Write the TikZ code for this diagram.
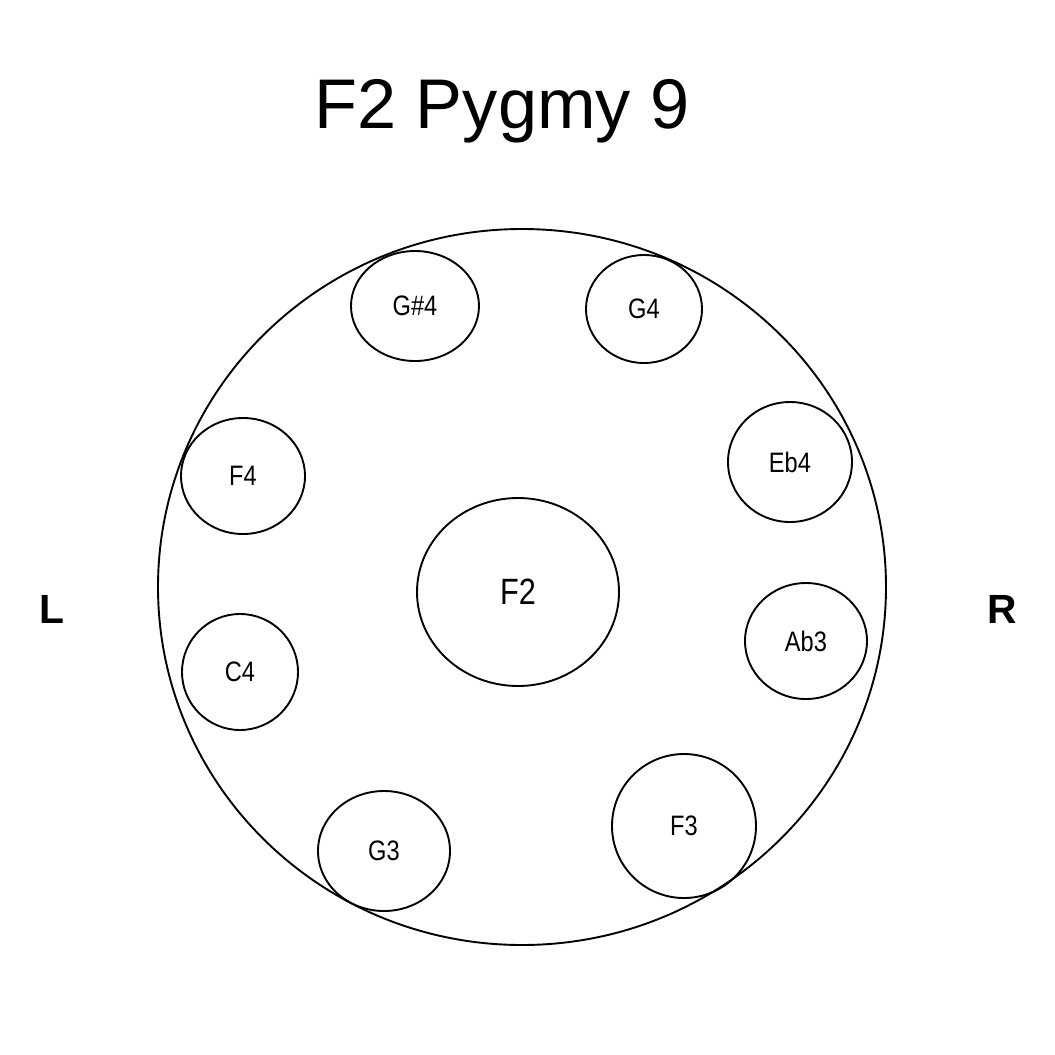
\documentclass[tikz,border=0pt]{standalone}
\usepackage{fontspec}
\setmainfont{Liberation Sans}
\newfontfamily\notefont[FakeStretch=0.84]{Liberation Sans}
\usepackage{tikz}
\usetikzlibrary{shapes.geometric}

\begin{document}
\begin{tikzpicture}[
  x=0.025cm, y=-0.025cm,
  body/.style={draw, line width=1.35pt, ellipse, inner sep=0pt, minimum width=728*0.025cm, minimum height=716*0.025cm},
  tone/.style 2 args={draw, line width=1.35pt, ellipse, inner sep=0pt, minimum width=2*#1*0.025cm, minimum height=2*#2*0.025cm, font=\notefont\fontsize{20}{22}\selectfont},
  ding/.style={draw, line width=1.35pt, ellipse, inner sep=0pt, minimum width=202*0.025cm, minimum height=188*0.025cm, font=\notefont\fontsize{26}{28}\selectfont},
  side/.style={font=\bfseries\fontsize{29}{30}\selectfont, inner sep=0pt}
]
\useasboundingbox (0,0) rectangle (1055,1055);

\node[anchor=base, inner sep=0pt, font=\fontsize{50}{54}\selectfont] (title) at (502,128) {F2 Pygmy 9};

\node[body] (shell) at (522,587) {};

\node[ding] (f2) at (518,592) {F2};

\node[tone={64}{55}] (gs4) at (415,306) {G\#4};
\node[tone={58}{54}] (g4) at (644,309) {G4};
\node[tone={62}{60}] (eb4) at (790,462) {Eb4};
\node[tone={62}{58}] (f4) at (243,476) {F4};
\node[tone={61}{58}] (ab3) at (806,641) {Ab3};
\node[tone={58}{58}] (c4) at (240,672) {C4};
\node[tone={72}{72}] (f3) at (684,826) {F3};
\node[tone={66}{60}] (g3) at (384,851) {G3};

\node[side] (left) at (52,609) {L};
\node[side] (right) at (1002,609) {R};

\end{tikzpicture}
\end{document}
